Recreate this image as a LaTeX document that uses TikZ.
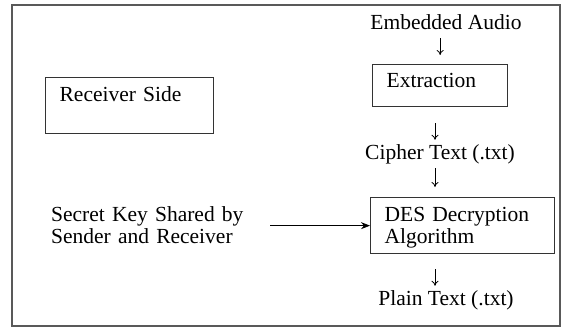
\documentclass[tikz,border=0pt]{standalone}
\usepackage{fontspec}
\setmainfont{Liberation Serif}
\newfontfamily\diagfont{Liberation Serif}
\usetikzlibrary{arrows.meta}

\begin{document}
\begin{tikzpicture}[x=1pt,y=-1pt,font=\diagfont\fontsize{21.5}{22}\selectfont,
                    box/.style={draw=black!80,line width=1.3pt,rectangle,anchor=north west,
                                inner xsep=14pt,inner ysep=0pt,align=left},
                    flow text/.style={inner sep=0pt,text height=15pt,text depth=5pt},
                    down/.style={-{To[length=5pt,width=7pt]},line width=0.8pt},
                    feed/.style={-{Stealth[length=9pt,width=7pt]},line width=0.8pt}]
  \useasboundingbox (0,0) rectangle (565,327);
  \draw[black!65,line width=1.5pt] (12,5) rectangle (560,326);
  \node[box,text width=140pt,text height=24pt,text depth=32pt] (receiver) at (45,77) {Receiver Side};
  \node[box,text width=107pt,text height=23pt,text depth=19pt] (extract) at (372,64) {Extraction};
  \node[box,text width=156pt,text height=24pt,text depth=32pt] (des) at (370,197) {DES Decryption\\Algorithm};
  \node[flow text,anchor=base] (audio) at (446,29) {Embedded Audio};
  \node[flow text,anchor=base] (cipher) at (440,159) {Cipher Text (.txt)};
  \node[flow text,anchor=base] (plain) at (446,305) {Plain Text (.txt)};
  \node[flow text,anchor=north west,align=left,text width=195pt,text depth=27pt] (key) at (51,206)
    {Secret Key Shared by\\Sender and Receiver};
  \coordinate (spine) at (435,0);
  \draw[down,shorten <=4pt,shorten >=9pt] (audio.south -| extract.north) -- (extract.north);
  \draw[down,shorten <=16pt,shorten >=4pt] (spine |- extract.south) -- (spine |- cipher.north);
  \draw[down,shorten <=4pt,shorten >=10pt] (spine |- cipher.south) -- (spine |- des.north);
  \draw[down,shorten <=15pt,shorten >=4pt] (spine |- des.south) -- (spine |- plain.north);
  \draw[feed,shorten <=24pt] (key.east |- des.west) -- (des.west);
\end{tikzpicture}
\end{document}
